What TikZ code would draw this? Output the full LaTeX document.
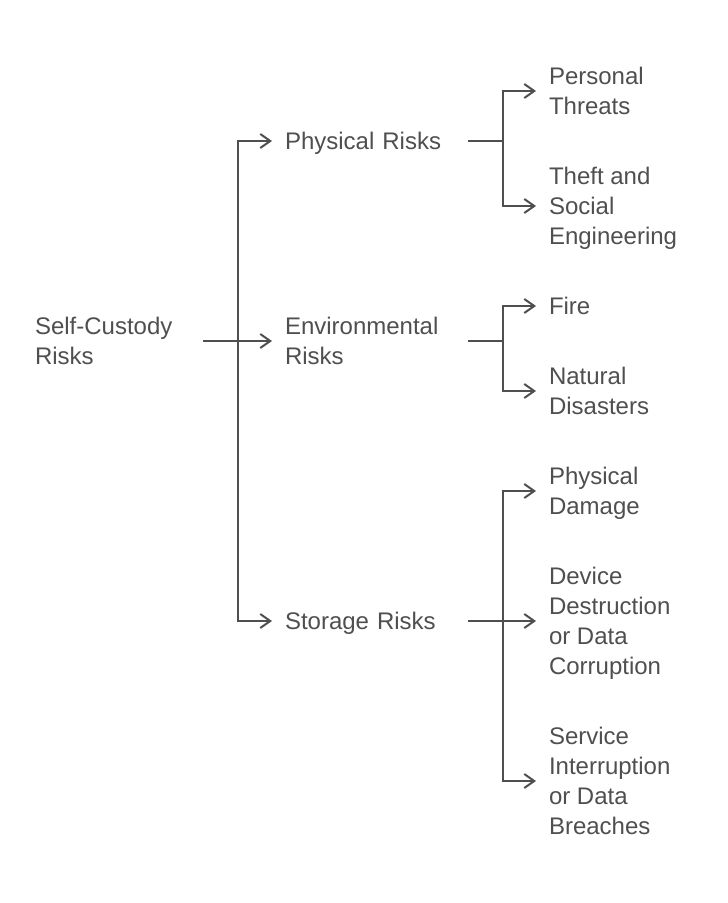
\documentclass[tikz,border=0pt]{standalone}
\usepackage{fontspec}
\setmainfont{Liberation Sans}
\usetikzlibrary{arrows.meta}
\definecolor{inkgray}{HTML}{4F4F4F}

\begin{document}
\begin{tikzpicture} [x=0.75pt, y=-0.75pt, align=left,
	every node/.style={inner sep=0pt, text=inkgray,
		font=\fontsize{18pt}{22.5pt}\selectfont},
	rootbox/.style={anchor=west, text width=116.25pt, outer xsep=9.75pt},
	midbox/.style={anchor=west, text width=127.5pt, outer xsep=9.75pt},
	leafbox/.style={anchor=west, text depth=0pt, outer xsep=9.75pt},
	link/.style={draw=inkgray, line width=1.5pt},
	branch/.style={link, -{Straight Barb[length=7.5pt, width=10.5pt, line width=1.5pt]}}]
\useasboundingbox (0,0) rectangle (728,903);

\path (22,341) node[rootbox] (root) {Self-Custody\\Risks};

\path (272,141) node[midbox, text depth=0pt] (phys) {Physical Risks}
	  (272,341) node[midbox] (env) {Environmental\\Risks}
	  (272,621) node[midbox, text depth=0pt] (stor) {Storage Risks};

\path (536,91) node[leafbox] (l1) {Personal\\Threats}
	  (536,206) node[leafbox] (l2) {Theft and\\Social\\Engineering}
	  (536,306) node[leafbox] (l3) {Fire}
	  (536,391) node[leafbox] (l4) {Natural\\Disasters}
	  (536,491) node[leafbox] (l5) {Physical\\Damage}
	  (536,621) node[leafbox] (l6) {Device\\Destruction\\or Data\\Corruption}
	  (536,781) node[leafbox] (l7) {Service\\Interruption\\or Data\\Breaches};

\coordinate (j0) at (238,341);
\coordinate (j1) at (503,141);
\coordinate (j2) at (503,341);
\coordinate (j3) at (503,621);

\draw[link] (root.east) -- (j0);
\draw[branch] (j0) |- (phys.west);
\draw[branch] (j0) -- (env.west);
\draw[branch] (j0) |- (stor.west);

\draw[link] (phys.east) -- (j1);
\draw[branch] (j1) |- (l1.west);
\draw[branch] (j1) |- (l2.west);

\draw[link] (env.east) -- (j2);
\draw[branch] (j2) |- (l3.west);
\draw[branch] (j2) |- (l4.west);

\draw[link] (stor.east) -- (j3);
\draw[branch] (j3) |- (l5.west);
\draw[branch] (j3) -- (l6.west);
\draw[branch] (j3) |- (l7.west);
\end{tikzpicture}
\end{document}
